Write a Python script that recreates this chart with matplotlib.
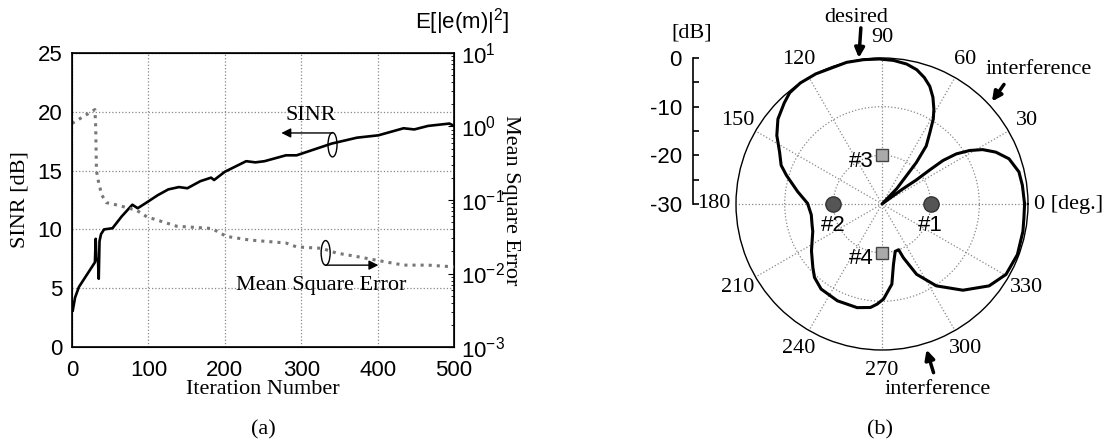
# SINR convergence (a) and the resulting beam pattern (b)

import matplotlib
matplotlib.use('Agg')
import matplotlib.pyplot as plt
import numpy as np
from matplotlib.patches import Ellipse

# ---- data (a): SINR and mean square error vs iteration ----
sinr_iter = [1, 4, 9, 18, 30, 31, 32, 34, 35, 36, 38, 42, 53, 65, 79, 86, 98,
             112, 126, 140, 151, 168, 182, 186, 200, 228, 240, 252, 280, 294,
             317, 340, 373, 401, 434, 448, 466, 494, 500]
sinr_db = [3.1, 4.2, 5.1, 6.0, 7.2, 9.2, 7.4, 7.4, 5.8, 9.0, 9.6, 10.0, 10.1,
           11.1, 12.1, 11.8, 12.3, 12.9, 13.4, 13.6, 13.5, 14.1, 14.4, 14.2,
           14.9, 15.8, 15.7, 15.8, 16.3, 16.3, 16.8, 17.3, 17.8, 18.0, 18.6,
           18.5, 18.8, 19.0, 18.8]

mse_iter = [0, 30, 31, 32, 35, 39, 45, 60, 85, 98, 120, 137, 183, 202, 233,
            280, 294, 327, 346, 373, 401, 434, 466, 500]
mse = [1.1, 1.7, 1.0, 0.25, 0.17, 0.117, 0.092, 0.085, 0.072, 0.059, 0.05,
       0.044, 0.041, 0.032, 0.0285, 0.026, 0.023, 0.022, 0.019, 0.017, 0.015,
       0.013, 0.013, 0.0123]

# ---- data (b): array pattern [dB] vs angle [deg] ----
pattern_deg = [0, 7.6, 13.2, 19.6, 24.5, 28.4, 31.4, 34, 35.5, 35.5, 35, 36,
               41, 46.2, 49.2, 50.4, 52.7, 56.2, 58.9, 61.3, 64.5, 67.9, 71.5,
               75.5, 80, 85.4, 91, 97.2, 104, 117, 124, 129.7, 134, 140.8,
               146.9, 153.1, 159, 163.3, 171.7, 179.5, 188.7, 196.7, 201.6,
               213.6, 222.6, 227.4, 234.4, 245.3, 256.5, 263.6, 267.2, 271,
               277, 280.8, 285.6, 290, 291.7, 296.2, 303.6, 313.2, 322.6,
               330.4, 339.5, 349, 354.3, 360]
pattern_db = [-0.7, -0.9, -1.1, -2.3, -4.3, -6.5, -8.9, -11.6, -14.6, -18.0,
              -21.4, -24.9, -30, -25.6, -22.2, -18.9, -15.0, -12.3, -9.6,
              -7.8, -5.7, -3.9, -2.6, -1.5, -0.8, -0.4, -0.2, -0.1, 0, 0, 0,
              -0.3, -1.1, -2.4, -4.2, -6.4, -7.8, -9.5, -12.5, -14.7, -15.3,
              -15.0, -14.7, -12.6, -10.7, -9.5, -8.5, -8.1, -8.1, -8.6, -9.4,
              -10.5, -13.4, -17.4, -19.9, -20.0, -18.1, -13.9, -9.8, -5.7,
              -2.3, -0.7, -0.3, -0.5, -0.7, -0.7]

# element positions
elem_names = ['#1', '#2', '#3', '#4']
elem_deg = [0, 180, 90, 270]
elem_db = [-20, -20, -20, -20]

W, H = 1111, 447
SERIF = 'Liberation Serif'
FS = 16

plt.rcParams['font.family'] = 'Liberation Sans'
plt.rcParams['axes.unicode_minus'] = False
plt.rcParams['mathtext.fontset'] = 'custom'
plt.rcParams['mathtext.rm'] = 'Liberation Sans'
plt.rcParams['mathtext.it'] = 'Liberation Sans:italic'

fig = plt.figure(figsize=(W / 100, H / 100), dpi=100)


def box(x0, y0, x1, y1):
    # pixel box (top-left origin) -> figure fraction
    return [x0 / W, 1 - y1 / H, (x1 - x0) / W, (y1 - y0) / H]


# ================= (a) =================
ax = fig.add_axes(box(72, 53, 454, 347))
ax.plot(sinr_iter, sinr_db, color='k', lw=1.9)
ax.set_xlim(0, 500)
ax.set_ylim(0, 25)
ax.set_xticks(range(0, 501, 100))
ax.set_yticks(range(0, 26, 5))
ax.grid(True, ls=':', color='#888888', lw=0.9)
ax.tick_params(axis='both', length=0, labelsize=FS)
ax.tick_params(axis='y', pad=7)
ax.tick_params(axis='x', pad=9)
for s in ax.spines.values():
    s.set_linewidth(1.2)
ax.set_xlabel('Iteration Number', family=SERIF, fontsize=FS, va='center')
ax.xaxis.set_label_coords(0.5, -0.143)
ax.set_ylabel('SINR [dB]', family=SERIF, fontsize=FS, va='center')
ax.yaxis.set_label_coords(-0.136, 0.5)

ax2 = ax.twinx()
ax2.plot(mse_iter, mse, color='#777777', ls=':', lw=2.2)
ax2.set_yscale('log')
ax2.set_ylim(1e-3, 10)
ax2.tick_params(which='both', direction='in', labelsize=FS, pad=5)
ax2.tick_params(which='major', length=4)
ax2.tick_params(which='minor', length=2.5)
ax2.set_ylabel('Mean Square Error', family=SERIF, fontsize=FS,
               rotation=270, va='center')
ax2.yaxis.set_label_coords(1.147, 0.5)
fig.text(462 / W, 1 - 22 / H, 'E[|e(m)|$^2$]', ha='center', va='center',
         fontsize=FS)

# legend-style callouts
ax.text(312, 19.7, 'SINR', family=SERIF, fontsize=FS, ha='center', va='center')
ax.add_patch(Ellipse((341, 17.2), 11.8, 2.07, fill=False, ec='k', lw=1))
ax.annotate('', xy=(274, 18.2), xytext=(341, 18.2),
            arrowprops=dict(arrowstyle='-|>', color='k', lw=1,
                            mutation_scale=14, shrinkA=0, shrinkB=0))
ax.add_patch(Ellipse((332, 8.0), 11.8, 2.1, fill=False, ec='k', lw=1))
ax.annotate('', xy=(401, 6.96), xytext=(332, 6.96),
            arrowprops=dict(arrowstyle='-|>', color='k', lw=1,
                            mutation_scale=14, shrinkA=0, shrinkB=0))
ax.text(326, 5.25, 'Mean Square Error', family=SERIF, fontsize=FS,
        ha='center', va='center')

fig.text(263 / W, 1 - 430 / H, '(a)', family=SERIF, fontsize=FS,
         ha='center', va='center')

# ================= (b) =================
pax = fig.add_axes(box(736, 58, 1028, 350), projection='polar')
pax.plot(np.deg2rad(pattern_deg), pattern_db, color='k', lw=2.2,
         solid_joinstyle='round', clip_on=False)
pax.set_ylim(-30, 0)
pax.set_yticks([-20, -10])
pax.set_yticklabels([])
pax.set_xticks(np.deg2rad(np.arange(0, 360, 30)))
pax.set_xticklabels([])
pax.grid(True, ls=':', color='#888888', lw=0.9)
pax.spines['polar'].set_linewidth(1.0)

# angle labels
for a in range(0, 360, 30):
    t = np.deg2rad(a)
    if a == 0:
        pax.text(t, 1.2, '0 [deg.]', family=SERIF, fontsize=FS,
                 ha='left', va='center')
    elif a == 180:
        pax.text(t, 1.2, '180', family=SERIF, fontsize=FS,
                 ha='right', va='center')
    else:
        pax.text(t, 4.3, str(a), family=SERIF, fontsize=FS,
                 ha='center', va='center')

# array elements
for name, d, r in zip(elem_names, elem_deg, elem_db):
    if name in ('#1', '#2'):
        pax.plot(np.deg2rad(d), r, 'o', ms=11, mfc='#555555', mec='#333333',
                 mew=1, clip_on=False)
        off = (0, -21)
    else:
        pax.plot(np.deg2rad(d), r, 's', ms=9, mfc='#aaaaaa', mec='#444444',
                 mew=1, clip_on=False)
        off = (-21, -6)
    pax.annotate(name, xy=(np.deg2rad(d), r), xytext=off,
                 textcoords='offset pixels', ha='center', va='center',
                 fontsize=FS)

# signal direction arrows
arrow = dict(arrowstyle='-|>', color='k', lw=2.5, mutation_scale=14,
             shrinkA=0, shrinkB=0)
pax.annotate('', xy=(np.deg2rad(99), 0.4), xytext=(2, 30),
             textcoords='offset pixels', arrowprops=arrow,
             annotation_clip=False)
pax.annotate('', xy=(np.deg2rad(43), 0.9), xytext=(12, 17),
             textcoords='offset pixels', arrowprops=arrow,
             annotation_clip=False)
pax.annotate('', xy=(np.deg2rad(287), 1.3), xytext=(7, -23),
             textcoords='offset pixels', arrowprops=arrow,
             annotation_clip=False)
fig.text(856 / W, 1 - 17 / H, 'desired', family=SERIF, fontsize=FS,
         ha='center', va='center')
fig.text(1039 / W, 1 - 70 / H, 'interference', family=SERIF, fontsize=FS,
         ha='center', va='center')
fig.text(938 / W, 1 - 390 / H, 'interference', family=SERIF, fontsize=FS,
         ha='center', va='center')

# dB scale bar
bax = fig.add_axes(box(693, 58, 693.1, 204))
bax.set_ylim(-30, 0)
bax.set_yticks([-30, -20, -10, 0])
bax.set_yticks([-25, -15, -5], minor=True)
bax.set_xticks([])
for k in ('right', 'top', 'bottom'):
    bax.spines[k].set_visible(False)
bax.spines['left'].set_linewidth(1.2)
bax.tick_params(which='both', direction='in', length=4, width=1.2,
                labelsize=FS, pad=8)
bax.patch.set_visible(False)
fig.text(692 / W, 1 - 33 / H, '[dB]', family=SERIF, fontsize=FS,
         ha='center', va='center')

fig.text(880 / W, 1 - 430 / H, '(b)', family=SERIF, fontsize=FS,
         ha='center', va='center')

plt.savefig('out.png', dpi=100)
